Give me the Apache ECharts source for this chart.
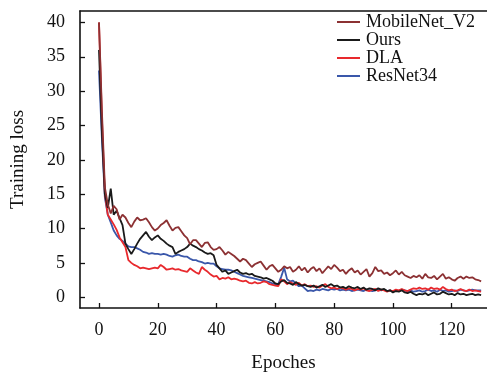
<!DOCTYPE html>
<html>
<head>
<meta charset="utf-8">
<script src="https://cdn.jsdelivr.net/npm/echarts@6/dist/echarts.min.js"></script>
<style>
html,body{margin:0;padding:0;background:#fff;}
#chart{width:487px;height:378px;}
</style>
</head>
<body>
<div id="chart"></div>
<script>
var xTicks = [0, 20, 40, 60, 80, 100, 120];
var yTicks = [0, 5, 10, 15, 20, 25, 30, 35, 40];
var seriesNames = ['MobileNet_V2', 'Ours', 'DLA', 'ResNet34'];

var mobilenet = [40,27,16,13.5,12.2,13.3,12.8,11.3,12.0,11.6,10.8,10.2,11.0,11.6,11.2,11.3,11.5,10.9,10.2,9.7,
10.0,10.5,10.8,11.2,10.4,9.7,10.1,10.2,9.6,9.0,8.6,7.7,8.3,8.3,7.8,7.3,7.9,8.0,7.3,6.9,
7.0,7.3,6.8,6.2,6.6,6.3,6.0,5.6,5.2,5.6,5.4,4.9,4.4,4.8,5.0,5.2,4.6,4.0,4.5,4.7,
4.2,3.7,4.0,4.5,4.2,4.4,3.7,4.0,4.5,3.9,4.3,3.6,4.1,4.4,3.8,4.2,3.5,4.0,4.5,4.1,
4.7,4.3,3.8,4.0,3.4,3.9,4.2,3.6,3.9,3.3,3.7,4.1,3.0,3.5,4.4,3.8,3.9,3.4,3.6,3.2,
3.5,3.9,3.3,3.7,3.2,3.0,2.8,3.1,2.9,3.2,2.7,3.4,2.9,2.8,3.1,2.6,3.0,3.4,2.7,2.9,
2.6,2.4,2.8,3.0,2.7,3.0,2.8,2.9,2.6,2.5,2.3];

var ours = [36,24,15,13,15.8,12.0,12.6,11.5,10.5,7.8,7.0,6.3,7.0,7.8,8.5,9.0,9.5,8.8,8.3,8.7,
9.0,8.5,8.2,7.8,7.5,7.3,6.3,6.6,6.8,7.0,7.3,7.8,7.5,7.3,7.0,6.8,6.5,6.3,6.4,6.1,
4.7,4.2,3.7,3.9,3.4,3.6,3.8,4.0,3.6,3.4,3.5,3.3,3.4,3.1,3.0,2.9,2.7,2.8,2.6,2.4,
2.0,1.9,2.3,2.5,2.1,2.0,1.8,2.2,1.9,1.7,1.8,1.6,1.5,1.7,1.4,1.6,1.8,1.5,1.7,1.9,
1.6,1.7,1.4,1.5,1.3,1.6,1.4,1.3,1.5,1.2,1.4,1.1,1.3,1.2,1.0,1.3,1.1,1.2,0.9,1.0,
0.7,0.9,0.8,1.0,0.7,0.6,0.8,0.5,0.3,0.5,0.4,0.6,0.3,0.5,0.7,0.4,0.5,0.8,0.6,0.4,
0.5,0.3,0.6,0.4,0.5,0.3,0.4,0.5,0.3,0.4,0.3];

var dla = [40,26,15,12,11.3,10.6,9.8,8.7,8.0,7.3,5.4,5.0,4.7,4.5,4.2,4.3,4.2,4.1,4.2,4.3,
4.2,4.7,4.4,4.0,4.1,4.2,4.0,4.1,3.9,3.8,3.7,4.2,3.9,3.6,3.4,4.4,4.0,3.7,3.3,3.0,
3.1,2.6,2.8,2.7,2.9,2.6,2.7,2.6,2.4,2.3,2.4,2.1,2.0,2.2,2.0,2.1,2.3,2.2,1.9,1.8,
1.7,1.6,2.6,2.3,1.9,2.2,2.0,1.8,2.1,1.7,1.9,1.6,1.7,1.5,1.6,1.4,1.7,1.9,1.5,1.3,
1.4,1.2,1.4,1.3,1.1,1.3,1.2,1.0,1.2,1.1,1.3,1.0,0.9,1.1,1.2,0.9,1.1,1.0,0.8,1.0,
0.9,1.1,1.0,1.2,1.0,0.9,1.1,1.3,1.2,1.4,1.2,1.3,1.1,1.4,1.2,1.3,1.1,1.5,1.2,1.0,
1.1,0.9,1.0,1.2,1.0,0.9,1.1,0.9,1.0,0.9,0.8];

var resnet = [33,23,14.5,12,10.9,9.7,9.0,8.5,8.2,7.8,7.4,7.3,7.3,7.1,6.9,6.6,6.5,6.3,6.4,6.3,
6.3,6.2,6.3,6.2,6.0,5.9,6.1,6.2,6.0,5.9,5.9,5.6,5.4,5.4,5.2,5.1,4.9,5.0,4.9,4.9,
4.5,4.2,4.1,4.0,4.0,3.9,3.7,3.5,3.3,3.1,3.0,2.9,2.8,2.7,2.6,2.5,2.4,2.3,2.2,2.0,
1.9,1.9,3.0,4.3,2.6,2.3,2.4,2.0,1.6,1.7,1.3,0.9,1.0,0.9,1.1,1.0,1.2,1.1,1.0,1.2,
1.1,1.2,1.0,1.1,1.0,1.1,0.9,1.0,1.1,1.0,0.9,1.1,1.0,0.9,1.0,1.2,1.0,1.1,0.9,1.0,
0.8,1.0,0.9,1.1,1.0,0.9,1.0,0.8,0.9,1.0,0.8,0.9,1.1,0.9,1.0,0.8,1.1,0.9,1.0,0.8,
0.9,1.0,0.9,1.1,1.0,0.9,1.0,1.1,1.0,1.0,1.0];

var colors = ['#8c3133', '#1a1a1a', '#e8292d', '#3a57aa'];
var allData = [mobilenet, ours, dla, resnet];

function pairs(arr) {
  return arr.map(function (v, i) { return [i, v]; });
}

var font = '"Liberation Serif", "Times New Roman", serif';

var series = seriesNames.map(function (name, k) {
  return {
    name: name,
    type: 'line',
    data: pairs(allData[k]),
    symbol: 'none',
    smooth: false,
    lineStyle: { color: colors[k], width: 1.8 },
    itemStyle: { color: colors[k] },
    z: 10 - k
  };
});

var chart = echarts.init(document.getElementById('chart'), null, { renderer: 'canvas' });
chart.setOption({
  animation: false,
  backgroundColor: '#fff',
  grid: { left: 80, top: 11, right: 0, bottom: 65, containLabel: false },
  legend: {
    orient: 'vertical',
    left: 337,
    top: 13,
    icon: 'rect',
    itemWidth: 23,
    itemHeight: 2,
    itemGap: 0,
    padding: 0,
    textStyle: { fontFamily: font, fontSize: 18, color: '#111', lineHeight: 17, padding: [0, 0, 0, 1] },
    data: seriesNames
  },
  xAxis: [{
    type: 'value',
    min: -6.46,
    max: 132,
    name: 'Epoches',
    nameLocation: 'middle',
    nameGap: 46,
    nameTextStyle: { fontFamily: font, fontSize: 19, color: '#111' },
    axisLine: { show: true, onZero: false, lineStyle: { color: '#111', width: 1.6 } },
    axisTick: { show: true, inside: true, length: 5, customValues: xTicks, lineStyle: { color: '#111', width: 1.3 } },
    axisLabel: { customValues: xTicks, margin: 13, fontFamily: font, fontSize: 18, color: '#111' },
    splitLine: { show: false }
  }, {
    type: 'value',
    position: 'top',
    min: -6.46,
    max: 132,
    axisLine: { show: true, onZero: false, lineStyle: { color: '#111', width: 1.6 } },
    axisTick: { show: false },
    axisLabel: { show: false },
    splitLine: { show: false }
  }],
  yAxis: {
    type: 'value',
    min: -1.57,
    max: 41.66,
    name: 'Training loss',
    nameLocation: 'middle',
    nameGap: 52,
    nameRotate: 90,
    nameTextStyle: { fontFamily: font, fontSize: 19, color: '#111' },
    axisLine: { show: true, onZero: false, lineStyle: { color: '#111', width: 1.6 } },
    axisTick: { show: true, inside: true, length: 5, customValues: yTicks, lineStyle: { color: '#111', width: 1.3 } },
    axisLabel: { customValues: yTicks, margin: 15, fontFamily: font, fontSize: 18, color: '#111' },
    splitLine: { show: false }
  },
  series: series
});
</script>
</body>
</html>
